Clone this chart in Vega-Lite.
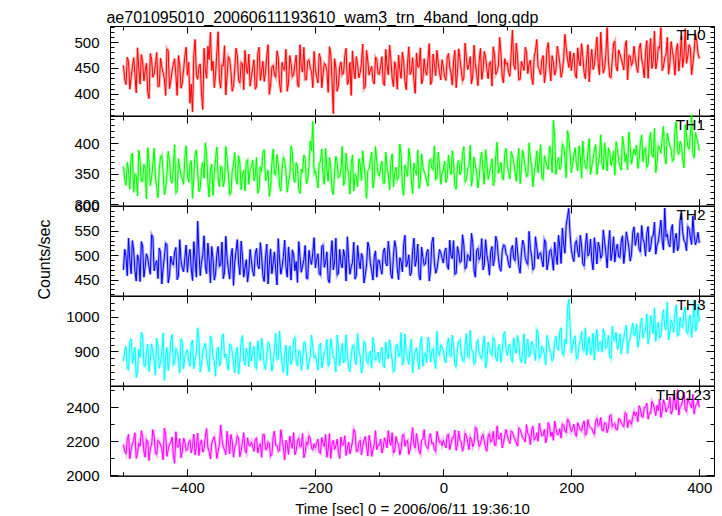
{
"$schema": "https://vega.github.io/schema/vega-lite/v6.json",
"background": "white",
"padding": {"left": 36, "top": 10, "right": 5, "bottom": 5},
"title": {"text": "ae701095010_20060611193610_wam3_trn_4band_long.qdp", "anchor": "start", "fontSize": 16, "fontWeight": "normal", "font": "Liberation Sans", "color": "black", "baseline": "alphabetic", "offset": -20, "dx": 70},
"spacing": 0,
"bounds": "flush",
"config": {
  "view": {"stroke": "black", "strokeWidth": 1},
  "font": "Liberation Sans",
  "axis": {"grid": false, "domainColor": "black", "tickColor": "black", "labelColor": "black", "titleColor": "black", "labelFont": "Liberation Sans", "titleFont": "Liberation Sans", "labelFontSize": 15, "titleFontSize": 15, "titleFontWeight": "normal", "labelFlush": false, "labelOverlap": false, "minExtent": 0}
},
"data": {"values": [
{"t":-500,"a":455,"b":362,"c":470,"d":872,"e":2180},
{"t":-496,"a":418,"b":331,"c":498,"d":915,"e":2125},
{"t":-492,"a":462,"b":355,"c":535,"d":848,"e":2240},
{"t":-488,"a":431,"b":378,"c":462,"d":936,"e":2150},
{"t":-484,"a":470,"b":320,"c":510,"d":890,"e":2205},
{"t":-480,"a":402,"b":347,"c":447,"d":826,"e":2098},
{"t":-476,"a":448,"b":389,"c":491,"d":907,"e":2188},
{"t":-472,"a":476,"b":338,"c":528,"d":955,"e":2262},
{"t":-468,"a":425,"b":366,"c":455,"d":861,"e":2140},
{"t":-464,"a":459,"b":309,"c":503,"d":899,"e":2210},
{"t":-460,"a":391,"b":371,"c":476,"d":843,"e":2085},
{"t":-456,"a":467,"b":344,"c":542,"d":922,"e":2175},
{"t":-452,"a":438,"b":392,"c":468,"d":874,"e":2230},
{"t":-448,"a":480,"b":328,"c":489,"d":938,"e":2120},
{"t":-444,"a":415,"b":357,"c":515,"d":852,"e":2195},
{"t":-440,"a":452,"b":381,"c":441,"d":895,"e":2155},
{"t":-436,"a":429,"b":316,"c":497,"d":817,"e":2278},
{"t":-432,"a":487,"b":349,"c":522,"d":911,"e":2110},
{"t":-428,"a":410,"b":373,"c":459,"d":880,"e":2185},
{"t":-424,"a":444,"b":335,"c":484,"d":949,"e":2225},
{"t":-420,"a":468,"b":398,"c":507,"d":865,"e":2070},
{"t":-416,"a":397,"b":322,"c":450,"d":902,"e":2168},
{"t":-412,"a":455,"b":360,"c":532,"d":838,"e":2215},
{"t":-408,"a":421,"b":343,"c":473,"d":927,"e":2135},
{"t":-404,"a":473,"b":377,"c":495,"d":884,"e":2198},
{"t":-400,"a":436,"b":348,"c":465,"d":906,"e":2150},
{"t":-396,"a":382,"b":365,"c":512,"d":857,"e":2205},
{"t":-392,"a":365,"b":310,"c":448,"d":933,"e":2172},
{"t":-388,"a":505,"b":384,"c":490,"d":875,"e":2118},
{"t":-384,"a":428,"b":352,"c":570,"d":968,"e":2248},
{"t":-380,"a":458,"b":327,"c":458,"d":841,"e":2190},
{"t":-376,"a":370,"b":369,"c":501,"d":898,"e":2135},
{"t":-372,"a":447,"b":401,"c":476,"d":923,"e":2225},
{"t":-368,"a":492,"b":336,"c":525,"d":862,"e":2160},
{"t":-364,"a":519,"b":358,"c":443,"d":945,"e":2095},
{"t":-360,"a":463,"b":315,"c":494,"d":884,"e":2212},
{"t":-356,"a":437,"b":374,"c":462,"d":829,"e":2178},
{"t":-352,"a":520,"b":343,"c":518,"d":912,"e":2140},
{"t":-348,"a":411,"b":362,"c":480,"d":870,"e":2296},
{"t":-344,"a":454,"b":329,"c":452,"d":951,"e":2165},
{"t":-340,"a":398,"b":395,"c":539,"d":893,"e":2120},
{"t":-336,"a":472,"b":351,"c":471,"d":846,"e":2190},
{"t":-332,"a":443,"b":318,"c":497,"d":919,"e":2240},
{"t":-328,"a":415,"b":366,"c":438,"d":868,"e":2105},
{"t":-324,"a":488,"b":340,"c":508,"d":901,"e":2182},
{"t":-320,"a":426,"b":380,"c":484,"d":835,"e":2215},
{"t":-316,"a":461,"b":324,"c":529,"d":928,"e":2145},
{"t":-312,"a":408,"b":356,"c":455,"d":877,"e":2250},
{"t":-308,"a":450,"b":371,"c":491,"d":910,"e":2130},
{"t":-304,"a":477,"b":333,"c":468,"d":856,"e":2175},
{"t":-300,"a":432,"b":361,"c":488,"d":872,"e":2195},
{"t":-296,"a":466,"b":339,"c":457,"d":915,"e":2140},
{"t":-292,"a":414,"b":377,"c":514,"d":850,"e":2218},
{"t":-288,"a":490,"b":325,"c":472,"d":897,"e":2168},
{"t":-284,"a":445,"b":354,"c":499,"d":938,"e":2105},
{"t":-280,"a":424,"b":390,"c":446,"d":861,"e":2240},
{"t":-276,"a":471,"b":344,"c":523,"d":884,"e":2152},
{"t":-272,"a":399,"b":313,"c":481,"d":922,"e":2188},
{"t":-268,"a":452,"b":368,"c":462,"d":843,"e":2122},
{"t":-264,"a":437,"b":351,"c":507,"d":906,"e":2260},
{"t":-260,"a":483,"b":382,"c":439,"d":876,"e":2175},
{"t":-256,"a":420,"b":330,"c":492,"d":959,"e":2145},
{"t":-252,"a":461,"b":359,"c":476,"d":865,"e":2210},
{"t":-248,"a":446,"b":372,"c":531,"d":893,"e":2090},
{"t":-244,"a":405,"b":320,"c":455,"d":831,"e":2185},
{"t":-240,"a":474,"b":346,"c":485,"d":917,"e":2230},
{"t":-236,"a":433,"b":387,"c":511,"d":880,"e":2158},
{"t":-232,"a":458,"b":336,"c":468,"d":940,"e":2120},
{"t":-228,"a":418,"b":363,"c":444,"d":858,"e":2202},
{"t":-224,"a":495,"b":318,"c":497,"d":899,"e":2165},
{"t":-220,"a":442,"b":352,"c":478,"d":871,"e":2245},
{"t":-216,"a":427,"b":375,"c":520,"d":926,"e":2130},
{"t":-212,"a":464,"b":341,"c":452,"d":848,"e":2178},
{"t":-208,"a":449,"b":404,"c":489,"d":888,"e":2215},
{"t":-204,"a":412,"b":436,"c":506,"d":912,"e":2148},
{"t":-200,"a":447,"b":355,"c":474,"d":889,"e":2160},
{"t":-196,"a":421,"b":327,"c":503,"d":846,"e":2212},
{"t":-192,"a":469,"b":370,"c":459,"d":924,"e":2128},
{"t":-188,"a":438,"b":348,"c":521,"d":871,"e":2185},
{"t":-184,"a":456,"b":392,"c":486,"d":905,"e":2240},
{"t":-180,"a":403,"b":338,"c":450,"d":858,"e":2150},
{"t":-176,"a":478,"b":361,"c":497,"d":937,"e":2098},
{"t":-172,"a":362,"b":316,"c":470,"d":882,"e":2205},
{"t":-168,"a":451,"b":379,"c":535,"d":841,"e":2172},
{"t":-164,"a":415,"b":344,"c":463,"d":910,"e":2135},
{"t":-160,"a":462,"b":357,"c":482,"d":896,"e":2225},
{"t":-156,"a":440,"b":331,"c":512,"d":867,"e":2180},
{"t":-152,"a":488,"b":384,"c":447,"d":948,"e":2115},
{"t":-148,"a":425,"b":350,"c":493,"d":853,"e":2195},
{"t":-144,"a":397,"b":368,"c":476,"d":886,"e":2158},
{"t":-140,"a":446,"b":322,"c":527,"d":919,"e":2270},
{"t":-136,"a":472,"b":346,"c":458,"d":862,"e":2140},
{"t":-132,"a":431,"b":375,"c":489,"d":901,"e":2190},
{"t":-128,"a":459,"b":339,"c":504,"d":838,"e":2120},
{"t":-124,"a":410,"b":363,"c":443,"d":929,"e":2208},
{"t":-120,"a":484,"b":310,"c":480,"d":875,"e":2165},
{"t":-116,"a":436,"b":358,"c":516,"d":893,"e":2235},
{"t":-112,"a":453,"b":386,"c":468,"d":852,"e":2110},
{"t":-108,"a":419,"b":341,"c":498,"d":914,"e":2182},
{"t":-104,"a":467,"b":369,"c":455,"d":880,"e":2150},
{"t":-100,"a":438,"b":347,"c":489,"d":868,"e":2175},
{"t":-96,"a":472,"b":371,"c":461,"d":912,"e":2130},
{"t":-92,"a":416,"b":335,"c":515,"d":853,"e":2220},
{"t":-88,"a":455,"b":360,"c":478,"d":895,"e":2160},
{"t":-84,"a":494,"b":324,"c":502,"d":934,"e":2195},
{"t":-80,"a":430,"b":383,"c":452,"d":874,"e":2250},
{"t":-76,"a":462,"b":352,"c":530,"d":846,"e":2142},
{"t":-72,"a":409,"b":340,"c":473,"d":920,"e":2188},
{"t":-68,"a":447,"b":399,"c":495,"d":889,"e":2118},
{"t":-64,"a":481,"b":328,"c":466,"d":861,"e":2235},
{"t":-60,"a":424,"b":365,"c":541,"d":950,"e":2170},
{"t":-56,"a":458,"b":346,"c":484,"d":882,"e":2205},
{"t":-52,"a":437,"b":377,"c":458,"d":907,"e":2148},
{"t":-48,"a":470,"b":318,"c":509,"d":839,"e":2280},
{"t":-44,"a":401,"b":355,"c":477,"d":901,"e":2160},
{"t":-40,"a":452,"b":389,"c":523,"d":876,"e":2198},
{"t":-36,"a":489,"b":337,"c":449,"d":925,"e":2125},
{"t":-32,"a":428,"b":362,"c":496,"d":858,"e":2215},
{"t":-28,"a":444,"b":349,"c":482,"d":894,"e":2180},
{"t":-24,"a":466,"b":330,"c":512,"d":941,"e":2155},
{"t":-20,"a":418,"b":374,"c":470,"d":870,"e":2245},
{"t":-16,"a":477,"b":357,"c":537,"d":908,"e":2190},
{"t":-12,"a":435,"b":341,"c":463,"d":851,"e":2138},
{"t":-8,"a":460,"b":386,"c":491,"d":897,"e":2225},
{"t":-4,"a":427,"b":333,"c":505,"d":918,"e":2200},
{"t":0,"a":451,"b":358,"c":484,"d":903,"e":2205},
{"t":4,"a":426,"b":336,"c":515,"d":867,"e":2160},
{"t":8,"a":478,"b":381,"c":471,"d":938,"e":2240},
{"t":12,"a":440,"b":349,"c":499,"d":885,"e":2185},
{"t":16,"a":463,"b":367,"c":530,"d":912,"e":2218},
{"t":20,"a":412,"b":325,"c":463,"d":856,"e":2145},
{"t":24,"a":487,"b":372,"c":506,"d":929,"e":2260},
{"t":28,"a":445,"b":355,"c":488,"d":894,"e":2195},
{"t":32,"a":431,"b":395,"c":522,"d":871,"e":2172},
{"t":36,"a":470,"b":341,"c":476,"d":951,"e":2232},
{"t":40,"a":456,"b":363,"c":497,"d":882,"e":2150},
{"t":44,"a":419,"b":330,"c":545,"d":907,"e":2210},
{"t":48,"a":494,"b":378,"c":468,"d":864,"e":2188},
{"t":52,"a":439,"b":352,"c":510,"d":926,"e":2275},
{"t":56,"a":465,"b":344,"c":491,"d":897,"e":2168},
{"t":60,"a":428,"b":386,"c":534,"d":879,"e":2225},
{"t":64,"a":482,"b":333,"c":479,"d":945,"e":2198},
{"t":68,"a":447,"b":368,"c":502,"d":868,"e":2140},
{"t":72,"a":460,"b":350,"c":459,"d":911,"e":2245},
{"t":76,"a":415,"b":375,"c":518,"d":889,"e":2205},
{"t":80,"a":476,"b":339,"c":493,"d":934,"e":2178},
{"t":84,"a":443,"b":402,"c":527,"d":872,"e":2290},
{"t":88,"a":509,"b":357,"c":474,"d":920,"e":2215},
{"t":92,"a":432,"b":346,"c":508,"d":898,"e":2160},
{"t":96,"a":468,"b":384,"c":520,"d":957,"e":2235},
{"t":100,"a":460,"b":366,"c":498,"d":888,"e":2230},
{"t":104,"a":434,"b":342,"c":474,"d":922,"e":2185},
{"t":108,"a":523,"b":380,"c":520,"d":871,"e":2255},
{"t":112,"a":447,"b":355,"c":489,"d":907,"e":2210},
{"t":116,"a":471,"b":371,"c":507,"d":946,"e":2170},
{"t":120,"a":428,"b":334,"c":463,"d":879,"e":2268},
{"t":124,"a":456,"b":389,"c":531,"d":901,"e":2222},
{"t":128,"a":490,"b":360,"c":495,"d":865,"e":2195},
{"t":132,"a":439,"b":347,"c":481,"d":936,"e":2245},
{"t":136,"a":465,"b":376,"c":514,"d":893,"e":2180},
{"t":140,"a":418,"b":329,"c":470,"d":918,"e":2290},
{"t":144,"a":483,"b":365,"c":538,"d":874,"e":2215},
{"t":148,"a":452,"b":352,"c":492,"d":955,"e":2200},
{"t":152,"a":437,"b":398,"c":505,"d":886,"e":2262},
{"t":156,"a":474,"b":341,"c":476,"d":909,"e":2235},
{"t":160,"a":444,"b":370,"c":527,"d":862,"e":2190},
{"t":164,"a":499,"b":357,"c":486,"d":931,"e":2310},
{"t":168,"a":425,"b":385,"c":512,"d":897,"e":2228},
{"t":172,"a":461,"b":438,"c":469,"d":880,"e":2205},
{"t":176,"a":446,"b":349,"c":500,"d":944,"e":2275},
{"t":180,"a":478,"b":377,"c":541,"d":903,"e":2240},
{"t":184,"a":432,"b":362,"c":483,"d":968,"e":2218},
{"t":188,"a":468,"b":395,"c":523,"d":889,"e":2295},
{"t":192,"a":489,"b":344,"c":562,"d":921,"e":2250},
{"t":196,"a":451,"b":410,"c":596,"d":1050,"e":2320},
{"t":200,"a":445,"b":352,"c":512,"d":896,"e":2255},
{"t":204,"a":479,"b":381,"c":487,"d":934,"e":2300},
{"t":208,"a":430,"b":367,"c":530,"d":878,"e":2230},
{"t":212,"a":462,"b":396,"c":496,"d":918,"e":2285},
{"t":216,"a":497,"b":343,"c":521,"d":957,"e":2260},
{"t":220,"a":441,"b":374,"c":478,"d":901,"e":2320},
{"t":224,"a":468,"b":358,"c":545,"d":889,"e":2245},
{"t":228,"a":423,"b":408,"c":503,"d":942,"e":2290},
{"t":232,"a":486,"b":362,"c":490,"d":912,"e":2275},
{"t":236,"a":455,"b":389,"c":536,"d":875,"e":2240},
{"t":240,"a":510,"b":349,"c":482,"d":963,"e":2335},
{"t":244,"a":437,"b":377,"c":517,"d":925,"e":2298},
{"t":248,"a":471,"b":366,"c":499,"d":898,"e":2265},
{"t":252,"a":449,"b":401,"c":528,"d":947,"e":2310},
{"t":256,"a":528,"b":355,"c":474,"d":915,"e":2250},
{"t":260,"a":433,"b":385,"c":551,"d":886,"e":2350},
{"t":264,"a":466,"b":372,"c":507,"d":972,"e":2285},
{"t":268,"a":502,"b":348,"c":486,"d":930,"e":2305},
{"t":272,"a":444,"b":391,"c":523,"d":906,"e":2270},
{"t":276,"a":477,"b":363,"c":495,"d":951,"e":2330},
{"t":280,"a":458,"b":412,"c":540,"d":921,"e":2295},
{"t":284,"a":491,"b":370,"c":509,"d":960,"e":2368},
{"t":288,"a":427,"b":357,"c":532,"d":894,"e":2280},
{"t":292,"a":473,"b":394,"c":488,"d":938,"e":2320},
{"t":296,"a":461,"b":380,"c":547,"d":982,"e":2345},
{"t":300,"a":470,"b":381,"c":520,"d":946,"e":2350},
{"t":304,"a":441,"b":359,"c":546,"d":912,"e":2315},
{"t":308,"a":498,"b":402,"c":507,"d":975,"e":2388},
{"t":312,"a":455,"b":370,"c":533,"d":938,"e":2342},
{"t":316,"a":482,"b":393,"c":498,"d":960,"e":2400},
{"t":320,"a":430,"b":365,"c":559,"d":921,"e":2330},
{"t":324,"a":507,"b":418,"c":515,"d":1003,"e":2365},
{"t":328,"a":463,"b":377,"c":540,"d":951,"e":2420},
{"t":332,"a":448,"b":352,"c":502,"d":929,"e":2352},
{"t":336,"a":490,"b":396,"c":528,"d":984,"e":2380},
{"t":340,"a":528,"b":384,"c":572,"d":945,"e":2340},
{"t":344,"a":452,"b":428,"c":511,"d":1020,"e":2445},
{"t":348,"a":476,"b":366,"c":538,"d":962,"e":2372},
{"t":352,"a":438,"b":405,"c":524,"d":933,"e":2398},
{"t":356,"a":501,"b":389,"c":553,"d":990,"e":2360},
{"t":360,"a":466,"b":373,"c":505,"d":955,"e":2470},
{"t":364,"a":485,"b":436,"c":545,"d":1034,"e":2385},
{"t":368,"a":444,"b":382,"c":518,"d":948,"e":2355},
{"t":372,"a":512,"b":398,"c":586,"d":971,"e":2410},
{"t":376,"a":471,"b":360,"c":530,"d":1012,"e":2490},
{"t":380,"a":459,"b":415,"c":509,"d":957,"e":2375},
{"t":384,"a":495,"b":391,"c":555,"d":993,"e":2430},
{"t":388,"a":437,"b":447,"c":522,"d":940,"e":2395},
{"t":392,"a":483,"b":376,"c":541,"d":1047,"e":2360},
{"t":396,"a":503,"b":409,"c":531,"d":968,"e":2415},
{"t":400,"a":468,"b":388,"c":525,"d":985,"e":2400},
{"t":-498,"a":428,"b":341,"c":512,"d":903,"e":2142},
{"t":-494,"a":471,"b":369,"c":458,"d":851,"e":2210},
{"t":-490,"a":409,"b":325,"c":489,"d":927,"e":2095},
{"t":-486,"a":452,"b":384,"c":530,"d":866,"e":2185},
{"t":-482,"a":437,"b":350,"c":468,"d":912,"e":2250},
{"t":-478,"a":489,"b":314,"c":501,"d":840,"e":2128},
{"t":-474,"a":419,"b":372,"c":446,"d":883,"e":2170},
{"t":-470,"a":462,"b":338,"c":519,"d":944,"e":2225},
{"t":-466,"a":445,"b":359,"c":477,"d":857,"e":2105},
{"t":-462,"a":403,"b":393,"c":494,"d":921,"e":2195},
{"t":-458,"a":478,"b":331,"c":461,"d":876,"e":2160},
{"t":-454,"a":432,"b":366,"c":537,"d":898,"e":2268},
{"t":-450,"a":456,"b":345,"c":483,"d":832,"e":2132},
{"t":-446,"a":414,"b":311,"c":452,"d":915,"e":2205},
{"t":-442,"a":469,"b":378,"c":506,"d":869,"e":2178},
{"t":-438,"a":441,"b":354,"c":472,"d":953,"e":2090},
{"t":-434,"a":397,"b":327,"c":525,"d":888,"e":2235},
{"t":-430,"a":483,"b":387,"c":443,"d":845,"e":2150},
{"t":-426,"a":425,"b":340,"c":498,"d":926,"e":2188},
{"t":-422,"a":458,"b":362,"c":480,"d":861,"e":2120},
{"t":-418,"a":436,"b":319,"c":516,"d":908,"e":2256},
{"t":-414,"a":474,"b":375,"c":457,"d":879,"e":2165},
{"t":-410,"a":411,"b":348,"c":489,"d":937,"e":2102},
{"t":-406,"a":447,"b":333,"c":466,"d":850,"e":2218},
{"t":-402,"a":490,"b":396,"c":521,"d":896,"e":2145},
{"t":-398,"a":461,"b":336,"c":497,"d":872,"e":2195},
{"t":-394,"a":419,"b":372,"c":472,"d":924,"e":2130},
{"t":-390,"a":476,"b":347,"c":528,"d":851,"e":2242},
{"t":-386,"a":437,"b":389,"c":455,"d":898,"e":2170},
{"t":-382,"a":452,"b":321,"c":509,"d":935,"e":2115},
{"t":-378,"a":401,"b":358,"c":486,"d":860,"e":2208},
{"t":-374,"a":488,"b":343,"c":540,"d":914,"e":2155},
{"t":-370,"a":430,"b":381,"c":462,"d":885,"e":2275},
{"t":-366,"a":466,"b":312,"c":491,"d":842,"e":2140},
{"t":-362,"a":445,"b":366,"c":518,"d":929,"e":2188},
{"t":-358,"a":412,"b":352,"c":449,"d":871,"e":2225},
{"t":-354,"a":479,"b":394,"c":503,"d":903,"e":2098},
{"t":-350,"a":428,"b":329,"c":477,"d":858,"e":2180},
{"t":-346,"a":456,"b":361,"c":527,"d":940,"e":2215},
{"t":-342,"a":493,"b":340,"c":464,"d":882,"e":2150},
{"t":-338,"a":434,"b":376,"c":495,"d":864,"e":2258},
{"t":-334,"a":467,"b":316,"c":451,"d":921,"e":2125},
{"t":-330,"a":405,"b":355,"c":514,"d":897,"e":2200},
{"t":-326,"a":449,"b":385,"c":486,"d":839,"e":2165},
{"t":-322,"a":473,"b":333,"c":532,"d":912,"e":2232},
{"t":-318,"a":421,"b":368,"c":460,"d":873,"e":2108},
{"t":-314,"a":458,"b":349,"c":498,"d":946,"e":2190},
{"t":-310,"a":484,"b":322,"c":475,"d":861,"e":2146},
{"t":-306,"a":439,"b":373,"c":445,"d":895,"e":2220},
{"t":-302,"a":415,"b":359,"c":512,"d":928,"e":2172},
{"t":-298,"a":450,"b":373,"c":468,"d":895,"e":2168},
{"t":-294,"a":409,"b":346,"c":503,"d":857,"e":2212},
{"t":-290,"a":478,"b":318,"c":479,"d":931,"e":2130},
{"t":-286,"a":426,"b":362,"c":526,"d":874,"e":2185},
{"t":-282,"a":463,"b":385,"c":458,"d":909,"e":2238},
{"t":-278,"a":441,"b":339,"c":495,"d":848,"e":2152},
{"t":-274,"a":495,"b":356,"c":441,"d":926,"e":2196},
{"t":-270,"a":417,"b":328,"c":513,"d":889,"e":2110},
{"t":-266,"a":455,"b":391,"c":484,"d":866,"e":2225},
{"t":-262,"a":432,"b":348,"c":470,"d":952,"e":2176},
{"t":-258,"a":470,"b":365,"c":534,"d":879,"e":2140},
{"t":-254,"a":403,"b":322,"c":461,"d":904,"e":2268},
{"t":-250,"a":448,"b":377,"c":498,"d":840,"e":2160},
{"t":-246,"a":486,"b":353,"c":476,"d":918,"e":2205},
{"t":-242,"a":422,"b":337,"c":517,"d":887,"e":2122},
{"t":-238,"a":459,"b":396,"c":449,"d":863,"e":2188},
{"t":-234,"a":437,"b":343,"c":502,"d":934,"e":2250},
{"t":-230,"a":475,"b":369,"c":487,"d":872,"e":2145},
{"t":-226,"a":413,"b":325,"c":528,"d":903,"e":2218},
{"t":-222,"a":451,"b":358,"c":465,"d":846,"e":2170},
{"t":-218,"a":490,"b":381,"c":491,"d":925,"e":2102},
{"t":-214,"a":428,"b":334,"c":453,"d":891,"e":2196},
{"t":-210,"a":466,"b":362,"c":510,"d":869,"e":2232},
{"t":-206,"a":443,"b":388,"c":481,"d":947,"e":2158},
{"t":-202,"a":482,"b":351,"c":536,"d":882,"e":2186},
{"t":-198,"a":433,"b":342,"c":491,"d":872,"e":2190},
{"t":-194,"a":478,"b":368,"c":462,"d":915,"e":2135},
{"t":-190,"a":412,"b":391,"c":518,"d":853,"e":2222},
{"t":-186,"a":459,"b":333,"c":475,"d":896,"e":2168},
{"t":-182,"a":444,"b":359,"c":507,"d":934,"e":2105},
{"t":-178,"a":491,"b":377,"c":443,"d":864,"e":2245},
{"t":-174,"a":426,"b":324,"c":530,"d":908,"e":2182},
{"t":-170,"a":468,"b":352,"c":486,"d":881,"e":2150},
{"t":-166,"a":405,"b":370,"c":459,"d":947,"e":2212},
{"t":-162,"a":452,"b":346,"c":512,"d":859,"e":2098},
{"t":-158,"a":437,"b":395,"c":474,"d":923,"e":2175},
{"t":-154,"a":474,"b":337,"c":497,"d":876,"e":2232},
{"t":-150,"a":418,"b":361,"c":538,"d":893,"e":2160},
{"t":-146,"a":461,"b":317,"c":461,"d":842,"e":2125},
{"t":-142,"a":483,"b":381,"c":485,"d":916,"e":2196},
{"t":-138,"a":429,"b":349,"c":451,"d":871,"e":2254},
{"t":-134,"a":455,"b":329,"c":520,"d":952,"e":2140},
{"t":-130,"a":441,"b":366,"c":472,"d":887,"e":2205},
{"t":-126,"a":496,"b":388,"c":496,"d":858,"e":2168},
{"t":-122,"a":414,"b":343,"c":460,"d":924,"e":2228},
{"t":-118,"a":463,"b":356,"c":527,"d":866,"e":2112},
{"t":-114,"a":447,"b":372,"c":483,"d":901,"e":2190},
{"t":-110,"a":425,"b":327,"c":449,"d":940,"e":2150},
{"t":-106,"a":471,"b":395,"c":509,"d":875,"e":2262},
{"t":-102,"a":439,"b":351,"c":490,"d":898,"e":2178},
{"t":-98,"a":455,"b":362,"c":473,"d":893,"e":2212},
{"t":-94,"a":421,"b":335,"c":506,"d":861,"e":2158},
{"t":-90,"a":486,"b":386,"c":484,"d":927,"e":2196},
{"t":-86,"a":437,"b":350,"c":529,"d":879,"e":2262},
{"t":-82,"a":467,"b":371,"c":461,"d":906,"e":2175},
{"t":-78,"a":414,"b":329,"c":498,"d":842,"e":2130},
{"t":-74,"a":449,"b":361,"c":515,"d":917,"e":2228},
{"t":-70,"a":475,"b":344,"c":450,"d":886,"e":2185},
{"t":-66,"a":430,"b":381,"c":487,"d":954,"e":2154},
{"t":-62,"a":462,"b":315,"c":522,"d":871,"e":2240},
{"t":-58,"a":408,"b":357,"c":476,"d":898,"e":2198},
{"t":-54,"a":491,"b":392,"c":501,"d":863,"e":2122},
{"t":-50,"a":443,"b":339,"c":464,"d":935,"e":2210},
{"t":-46,"a":426,"b":368,"c":535,"d":880,"e":2176},
{"t":-42,"a":479,"b":348,"c":491,"d":911,"e":2245},
{"t":-38,"a":452,"b":326,"c":458,"d":849,"e":2140},
{"t":-34,"a":419,"b":383,"c":517,"d":943,"e":2205},
{"t":-30,"a":468,"b":354,"c":480,"d":887,"e":2268},
{"t":-26,"a":436,"b":337,"c":506,"d":868,"e":2168},
{"t":-22,"a":497,"b":372,"c":447,"d":926,"e":2222},
{"t":-18,"a":424,"b":360,"c":526,"d":901,"e":2186},
{"t":-14,"a":457,"b":396,"c":485,"d":877,"e":2150},
{"t":-10,"a":484,"b":343,"c":471,"d":958,"e":2258},
{"t":-6,"a":441,"b":365,"c":512,"d":889,"e":2192},
{"t":-2,"a":466,"b":351,"c":494,"d":912,"e":2175},
{"t":2,"a":433,"b":371,"c":507,"d":876,"e":2182},
{"t":6,"a":470,"b":343,"c":478,"d":921,"e":2235},
{"t":10,"a":452,"b":359,"c":531,"d":888,"e":2150},
{"t":14,"a":417,"b":388,"c":493,"d":947,"e":2220},
{"t":18,"a":484,"b":330,"c":461,"d":862,"e":2265},
{"t":22,"a":441,"b":366,"c":518,"d":909,"e":2178},
{"t":26,"a":466,"b":349,"c":485,"d":934,"e":2206},
{"t":30,"a":425,"b":382,"c":542,"d":875,"e":2140},
{"t":34,"a":498,"b":337,"c":472,"d":915,"e":2248},
{"t":38,"a":447,"b":359,"c":501,"d":886,"e":2194},
{"t":42,"a":472,"b":397,"c":488,"d":961,"e":2225},
{"t":46,"a":435,"b":346,"c":526,"d":899,"e":2168},
{"t":50,"a":459,"b":366,"c":455,"d":870,"e":2282},
{"t":54,"a":416,"b":327,"c":514,"d":933,"e":2210},
{"t":58,"a":488,"b":373,"c":497,"d":884,"e":2185},
{"t":62,"a":444,"b":357,"c":470,"d":918,"e":2240},
{"t":66,"a":470,"b":390,"c":532,"d":852,"e":2160},
{"t":70,"a":429,"b":341,"c":486,"d":927,"e":2228},
{"t":74,"a":462,"b":362,"c":508,"d":896,"e":2195},
{"t":78,"a":491,"b":331,"c":478,"d":940,"e":2258},
{"t":82,"a":438,"b":380,"c":539,"d":881,"e":2175},
{"t":86,"a":455,"b":351,"c":495,"d":912,"e":2215},
{"t":90,"a":478,"b":369,"c":467,"d":869,"e":2248},
{"t":94,"a":421,"b":340,"c":521,"d":948,"e":2190},
{"t":98,"a":457,"b":392,"c":503,"d":905,"e":2270},
{"t":102,"a":441,"b":353,"c":481,"d":913,"e":2205},
{"t":106,"a":478,"b":387,"c":512,"d":876,"e":2260},
{"t":110,"a":456,"b":370,"c":493,"d":939,"e":2228},
{"t":114,"a":498,"b":338,"c":536,"d":895,"e":2190},
{"t":118,"a":427,"b":392,"c":477,"d":924,"e":2278},
{"t":122,"a":463,"b":359,"c":505,"d":868,"e":2245},
{"t":126,"a":445,"b":375,"c":522,"d":951,"e":2212},
{"t":130,"a":481,"b":346,"c":486,"d":903,"e":2298},
{"t":134,"a":458,"b":401,"c":549,"d":884,"e":2236},
{"t":138,"a":432,"b":364,"c":498,"d":930,"e":2265},
{"t":142,"a":472,"b":352,"c":475,"d":897,"e":2208},
{"t":146,"a":505,"b":388,"c":516,"d":962,"e":2250},
{"t":150,"a":447,"b":371,"c":503,"d":879,"e":2305},
{"t":154,"a":466,"b":343,"c":489,"d":915,"e":2232},
{"t":158,"a":421,"b":380,"c":532,"d":891,"e":2270},
{"t":162,"a":487,"b":363,"c":470,"d":946,"e":2220},
{"t":166,"a":453,"b":396,"c":508,"d":905,"e":2285},
{"t":170,"a":474,"b":352,"c":494,"d":873,"e":2255},
{"t":174,"a":436,"b":411,"c":527,"d":928,"e":2318},
{"t":178,"a":492,"b":368,"c":481,"d":912,"e":2240},
{"t":182,"a":459,"b":357,"c":517,"d":957,"e":2275},
{"t":186,"a":443,"b":399,"c":556,"d":894,"e":2302},
{"t":190,"a":515,"b":376,"c":504,"d":935,"e":2262},
{"t":194,"a":468,"b":421,"c":578,"d":1018,"e":2330},
{"t":198,"a":482,"b":385,"c":543,"d":982,"e":2288},
{"t":202,"a":466,"b":367,"c":496,"d":914,"e":2275},
{"t":206,"a":438,"b":393,"c":524,"d":945,"e":2242},
{"t":210,"a":489,"b":355,"c":507,"d":883,"e":2310},
{"t":214,"a":454,"b":381,"c":541,"d":929,"e":2268},
{"t":218,"a":472,"b":404,"c":483,"d":906,"e":2296},
{"t":222,"a":429,"b":362,"c":518,"d":968,"e":2235},
{"t":226,"a":495,"b":386,"c":499,"d":921,"e":2328},
{"t":230,"a":461,"b":349,"c":533,"d":890,"e":2280},
{"t":234,"a":447,"b":375,"c":470,"d":953,"e":2255},
{"t":238,"a":483,"b":398,"c":513,"d":937,"e":2318},
{"t":242,"a":458,"b":368,"c":527,"d":900,"e":2290},
{"t":246,"a":519,"b":414,"c":494,"d":928,"e":2340},
{"t":250,"a":440,"b":357,"c":552,"d":965,"e":2262},
{"t":254,"a":476,"b":380,"c":505,"d":909,"e":2305},
{"t":258,"a":463,"b":393,"c":520,"d":946,"e":2278},
{"t":262,"a":431,"b":364,"c":489,"d":879,"e":2355},
{"t":266,"a":497,"b":388,"c":538,"d":934,"e":2298},
{"t":270,"a":452,"b":403,"c":512,"d":955,"e":2268},
{"t":274,"a":485,"b":371,"c":497,"d":918,"e":2332},
{"t":278,"a":468,"b":356,"c":529,"d":893,"e":2310},
{"t":282,"a":446,"b":397,"c":483,"d":940,"e":2285},
{"t":286,"a":503,"b":383,"c":548,"d":975,"e":2362},
{"t":290,"a":474,"b":419,"c":516,"d":929,"e":2322},
{"t":294,"a":455,"b":366,"c":501,"d":962,"e":2300},
{"t":298,"a":492,"b":391,"c":558,"d":947,"e":2375},
{"t":302,"a":452,"b":397,"c":534,"d":978,"e":2372},
{"t":306,"a":487,"b":372,"c":512,"d":931,"e":2410},
{"t":310,"a":466,"b":414,"c":561,"d":996,"e":2345},
{"t":314,"a":431,"b":389,"c":526,"d":957,"e":2398},
{"t":318,"a":503,"b":361,"c":545,"d":1008,"e":2425},
{"t":322,"a":477,"b":403,"c":507,"d":944,"e":2368},
{"t":326,"a":449,"b":382,"c":538,"d":973,"e":2435},
{"t":330,"a":521,"b":425,"c":568,"d":1025,"e":2390},
{"t":334,"a":462,"b":368,"c":521,"d":962,"e":2412},
{"t":338,"a":488,"b":392,"c":550,"d":939,"e":2448},
{"t":342,"a":445,"b":408,"c":529,"d":991,"e":2375},
{"t":346,"a":470,"b":379,"c":597,"d":970,"e":2420},
{"t":350,"a":509,"b":417,"c":543,"d":1041,"e":2395},
{"t":354,"a":458,"b":396,"c":517,"d":953,"e":2462},
{"t":358,"a":482,"b":371,"c":563,"d":982,"e":2380},
{"t":362,"a":436,"b":423,"c":534,"d":1010,"e":2430},
{"t":366,"a":497,"b":388,"c":509,"d":945,"e":2505},
{"t":370,"a":468,"b":404,"c":572,"d":998,"e":2405},
{"t":374,"a":451,"b":375,"c":548,"d":969,"e":2440},
{"t":378,"a":526,"b":431,"c":526,"d":1028,"e":2388},
{"t":382,"a":473,"b":395,"c":559,"d":951,"e":2455},
{"t":386,"a":489,"b":411,"c":538,"d":1005,"e":2420},
{"t":390,"a":458,"b":384,"c":580,"d":984,"e":2478},
{"t":394,"a":515,"b":418,"c":521,"d":958,"e":2410},
{"t":398,"a":478,"b":400,"c":547,"d":1036,"e":2445}
]},
"vconcat": [
{
 "width": 604, "height": 89.7,
 "layer": [
  {"mark": {"type": "line", "color": "#ff0000", "strokeWidth": 3, "opacity": 0.3},
   "encoding": {"x": {"field": "t", "type": "quantitative", "axis": null}, "y": {"field": "a", "type": "quantitative", "axis": null}}},
  {"mark": {"type": "line", "color": "#ff0000", "strokeWidth": 1},
   "encoding": {
    "x": {"field": "t", "type": "quantitative", "scale": {"domain": [-521, 423], "nice": false, "zero": false},
          "axis": {"orient": "bottom", "values": [-500,-400,-300,-200,-100,0,100,200,300,400], "labels": false, "title": null, "tickSize": {"condition": {"test": "datum.value % 200 === 0", "value": -7}, "value": -4}}},
    "y": {"field": "a", "type": "quantitative", "scale": {"domain": [358, 531], "nice": false, "zero": false},
          "axis": {"orient": "left", "title": null, "format": "d", "values": [360,370,380,390,400,410,420,430,440,450,460,470,480,490,500,510,520,530], "labelExpr": "datum.value % 50 === 0 ? datum.label : ''", "labelPadding": 19, "tickSize": {"condition": {"test": "datum.value % 50 === 0", "value": -8}, "value": -4}}}}},
  {"mark": {"type": "line", "strokeOpacity": 0},
   "encoding": {
    "x": {"field": "t", "type": "quantitative", "axis": {"orient": "top", "values": [-500,-400,-300,-200,-100,0,100,200,300,400], "labels": false, "title": null, "tickSize": {"condition": {"test": "datum.value % 200 === 0", "value": -7}, "value": -4}}},
    "y": {"field": "a", "type": "quantitative", "axis": {"orient": "right", "title": null, "labels": false, "values": [360,370,380,390,400,410,420,430,440,450,460,470,480,490,500,510,520,530], "tickSize": {"condition": {"test": "datum.value % 50 === 0", "value": -8}, "value": -4}}}}},
  {"data": {"values": [{"lab": "TH0"}]},
   "mark": {"type": "text", "align": "right", "baseline": "top", "dy": 2, "fontSize": 15.5, "font": "Liberation Sans", "color": "black"},
   "encoding": {"x": {"datum": 410, "type": "quantitative", "axis": null}, "y": {"datum": 531, "type": "quantitative", "axis": null}, "text": {"field": "lab"}}}
 ],
 "resolve": {"axis": {"x": "independent", "y": "independent"}}
},
{
 "width": 604, "height": 89.7,
 "layer": [
  {"mark": {"type": "line", "color": "#00ff00", "strokeWidth": 3, "opacity": 0.3},
   "encoding": {"x": {"field": "t", "type": "quantitative", "axis": null}, "y": {"field": "b", "type": "quantitative", "axis": null}}},
  {"mark": {"type": "line", "color": "#00ff00", "strokeWidth": 1},
   "encoding": {
    "x": {"field": "t", "type": "quantitative", "scale": {"domain": [-521, 423], "nice": false, "zero": false},
          "axis": {"orient": "bottom", "values": [-500,-400,-300,-200,-100,0,100,200,300,400], "labels": false, "title": null, "tickSize": {"condition": {"test": "datum.value % 200 === 0", "value": -7}, "value": -4}}},
    "y": {"field": "b", "type": "quantitative", "scale": {"domain": [298, 445], "nice": false, "zero": false},
          "axis": {"orient": "left", "title": null, "format": "d", "values": [300,310,320,330,340,350,360,370,380,390,400,410,420,430,440], "labelExpr": "datum.value % 50 === 0 ? datum.label : ''", "labelPadding": 19, "tickSize": {"condition": {"test": "datum.value % 50 === 0", "value": -8}, "value": -4}}}}},
  {"mark": {"type": "line", "strokeOpacity": 0},
   "encoding": {
    "x": {"field": "t", "type": "quantitative", "axis": {"orient": "top", "values": [-500,-400,-300,-200,-100,0,100,200,300,400], "labels": false, "title": null, "tickSize": {"condition": {"test": "datum.value % 200 === 0", "value": -7}, "value": -4}}},
    "y": {"field": "b", "type": "quantitative", "axis": {"orient": "right", "title": null, "labels": false, "values": [300,310,320,330,340,350,360,370,380,390,400,410,420,430,440], "tickSize": {"condition": {"test": "datum.value % 50 === 0", "value": -8}, "value": -4}}}}},
  {"data": {"values": [{"lab": "TH1"}]},
   "mark": {"type": "text", "align": "right", "baseline": "top", "dy": 2, "fontSize": 15.5, "font": "Liberation Sans", "color": "black"},
   "encoding": {"x": {"datum": 409, "type": "quantitative", "axis": null}, "y": {"datum": 445, "type": "quantitative", "axis": null}, "text": {"field": "lab"}}}
 ],
 "resolve": {"axis": {"x": "independent", "y": "independent"}}
},
{
 "width": 604, "height": 89.7,
 "layer": [
  {"mark": {"type": "line", "color": "#0000ff", "strokeWidth": 3, "opacity": 0.3},
   "encoding": {"x": {"field": "t", "type": "quantitative", "axis": null}, "y": {"field": "c", "type": "quantitative", "axis": null}}},
  {"mark": {"type": "line", "color": "#0000ff", "strokeWidth": 1},
   "encoding": {
    "x": {"field": "t", "type": "quantitative", "scale": {"domain": [-521, 423], "nice": false, "zero": false},
          "axis": {"orient": "bottom", "values": [-500,-400,-300,-200,-100,0,100,200,300,400], "labels": false, "title": null, "tickSize": {"condition": {"test": "datum.value % 200 === 0", "value": -7}, "value": -4}}},
    "y": {"field": "c", "type": "quantitative", "scale": {"domain": [417, 601], "nice": false, "zero": false},
          "axis": {"orient": "left", "title": "Counts/sec", "titleFontSize": 16, "titleFont": "Liberation Sans", "titleFontWeight": "normal", "titlePadding": 21, "titleY": 53, "format": "d", "values": [420,430,440,450,460,470,480,490,500,510,520,530,540,550,560,570,580,590,600], "labelExpr": "datum.value % 50 === 0 ? datum.label : ''", "labelPadding": 19, "tickSize": {"condition": {"test": "datum.value % 50 === 0", "value": -8}, "value": -4}}}}},
  {"mark": {"type": "line", "strokeOpacity": 0},
   "encoding": {
    "x": {"field": "t", "type": "quantitative", "axis": {"orient": "top", "values": [-500,-400,-300,-200,-100,0,100,200,300,400], "labels": false, "title": null, "tickSize": {"condition": {"test": "datum.value % 200 === 0", "value": -7}, "value": -4}}},
    "y": {"field": "c", "type": "quantitative", "axis": {"orient": "right", "title": null, "labels": false, "values": [420,430,440,450,460,470,480,490,500,510,520,530,540,550,560,570,580,590,600], "tickSize": {"condition": {"test": "datum.value % 50 === 0", "value": -8}, "value": -4}}}}},
  {"data": {"values": [{"lab": "TH2"}]},
   "mark": {"type": "text", "align": "right", "baseline": "top", "dy": 2, "fontSize": 15.5, "font": "Liberation Sans", "color": "black"},
   "encoding": {"x": {"datum": 410, "type": "quantitative", "axis": null}, "y": {"datum": 601, "type": "quantitative", "axis": null}, "text": {"field": "lab"}}}
 ],
 "resolve": {"axis": {"x": "independent", "y": "independent"}}
},
{
 "width": 604, "height": 89.7,
 "layer": [
  {"mark": {"type": "line", "color": "#00ffff", "strokeWidth": 3, "opacity": 0.3},
   "encoding": {"x": {"field": "t", "type": "quantitative", "axis": null}, "y": {"field": "d", "type": "quantitative", "axis": null}}},
  {"mark": {"type": "line", "color": "#00ffff", "strokeWidth": 1},
   "encoding": {
    "x": {"field": "t", "type": "quantitative", "scale": {"domain": [-521, 423], "nice": false, "zero": false},
          "axis": {"orient": "bottom", "values": [-500,-400,-300,-200,-100,0,100,200,300,400], "labels": false, "title": null, "tickSize": {"condition": {"test": "datum.value % 200 === 0", "value": -7}, "value": -4}}},
    "y": {"field": "d", "type": "quantitative", "scale": {"domain": [802, 1059], "nice": false, "zero": false},
          "axis": {"orient": "left", "title": null, "format": "d", "values": [820,840,860,880,900,920,940,960,980,1000,1020,1040], "labelExpr": "datum.value % 100 === 0 ? datum.label : ''", "labelPadding": 19, "tickSize": {"condition": {"test": "datum.value % 100 === 0", "value": -8}, "value": -4}}}}},
  {"mark": {"type": "line", "strokeOpacity": 0},
   "encoding": {
    "x": {"field": "t", "type": "quantitative", "axis": {"orient": "top", "values": [-500,-400,-300,-200,-100,0,100,200,300,400], "labels": false, "title": null, "tickSize": {"condition": {"test": "datum.value % 200 === 0", "value": -7}, "value": -4}}},
    "y": {"field": "d", "type": "quantitative", "axis": {"orient": "right", "title": null, "labels": false, "values": [820,840,860,880,900,920,940,960,980,1000,1020,1040], "tickSize": {"condition": {"test": "datum.value % 100 === 0", "value": -8}, "value": -4}}}}},
  {"data": {"values": [{"lab": "TH3"}]},
   "mark": {"type": "text", "align": "right", "baseline": "top", "dy": 2, "fontSize": 15.5, "font": "Liberation Sans", "color": "black"},
   "encoding": {"x": {"datum": 410, "type": "quantitative", "axis": null}, "y": {"datum": 1059, "type": "quantitative", "axis": null}, "text": {"field": "lab"}}}
 ],
 "resolve": {"axis": {"x": "independent", "y": "independent"}}
},
{
 "width": 604, "height": 89.7,
 "layer": [
  {"mark": {"type": "line", "color": "#ff00ff", "strokeWidth": 3, "opacity": 0.3},
   "encoding": {"x": {"field": "t", "type": "quantitative", "axis": null}, "y": {"field": "e", "type": "quantitative", "axis": null}}},
  {"mark": {"type": "line", "color": "#ff00ff", "strokeWidth": 1},
   "encoding": {
    "x": {"field": "t", "type": "quantitative", "scale": {"domain": [-521, 423], "nice": false, "zero": false},
          "axis": {"orient": "bottom", "values": [-500,-400,-300,-200,-100,0,100,200,300,400], "labelExpr": "datum.value % 200 === 0 ? datum.label : ''", "labelPadding": 12, "title": "Time [sec] 0 = 2006/06/11 19:36:10", "titleFontSize": 15, "titleFont": "Liberation Sans", "titleFontWeight": "normal", "titlePadding": 3, "tickSize": {"condition": {"test": "datum.value % 200 === 0", "value": -7}, "value": -4}}},
    "y": {"field": "e", "type": "quantitative", "scale": {"domain": [1996, 2526], "nice": false, "zero": false},
          "axis": {"orient": "left", "title": null, "format": "d", "values": [2000,2100,2200,2300,2400,2500], "labelExpr": "datum.value % 200 === 0 ? datum.label : ''", "labelPadding": 19, "tickSize": {"condition": {"test": "datum.value % 200 === 0", "value": -8}, "value": -4}}}}},
  {"mark": {"type": "line", "strokeOpacity": 0},
   "encoding": {
    "x": {"field": "t", "type": "quantitative", "axis": {"orient": "top", "values": [-500,-400,-300,-200,-100,0,100,200,300,400], "labels": false, "title": null, "tickSize": {"condition": {"test": "datum.value % 200 === 0", "value": -7}, "value": -4}}},
    "y": {"field": "e", "type": "quantitative", "axis": {"orient": "right", "title": null, "labels": false, "values": [2000,2100,2200,2300,2400,2500], "tickSize": {"condition": {"test": "datum.value % 200 === 0", "value": -8}, "value": -4}}}}},
  {"data": {"values": [{"lab": "TH0123"}]},
   "mark": {"type": "text", "align": "right", "baseline": "top", "dy": 2, "fontSize": 15.5, "font": "Liberation Sans", "color": "black"},
   "encoding": {"x": {"datum": 418, "type": "quantitative", "axis": null}, "y": {"datum": 2526, "type": "quantitative", "axis": null}, "text": {"field": "lab"}}}
 ],
 "resolve": {"axis": {"x": "independent", "y": "independent"}}
}
]
}
